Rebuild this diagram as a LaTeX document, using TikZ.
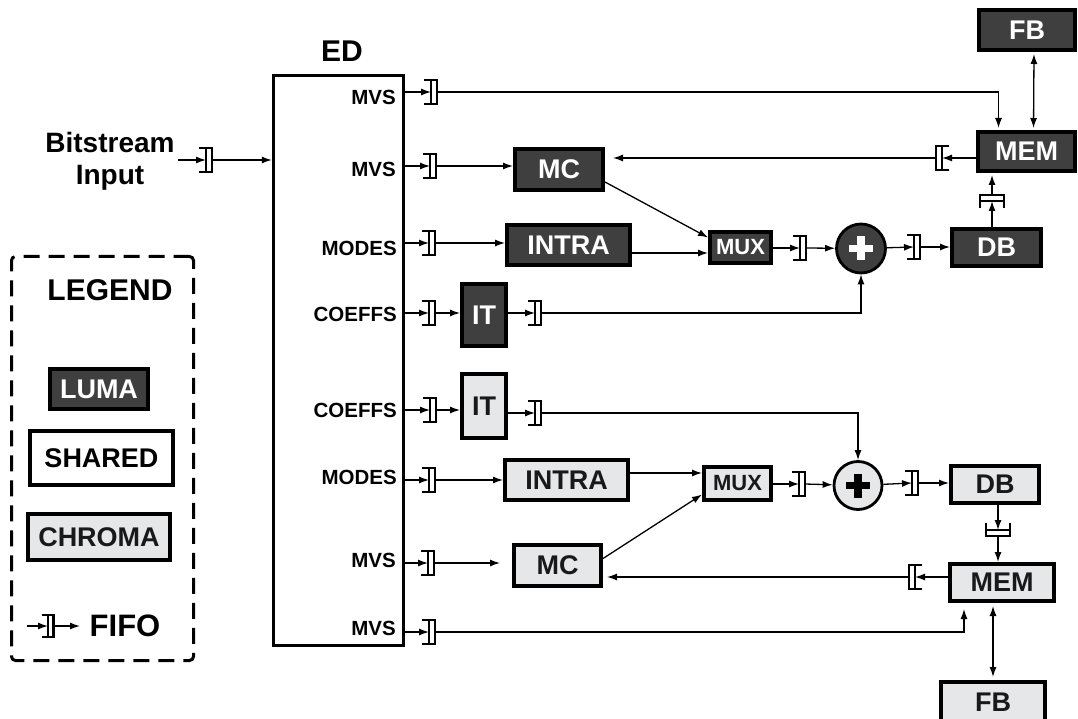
\documentclass[tikz,border=0pt]{standalone}
\usepackage{fontspec}
\setmainfont{Liberation Sans}
\usetikzlibrary{arrows.meta,calc}

\definecolor{lumafill}{HTML}{3F3F3F}
\definecolor{chromafill}{HTML}{E6E7E8}

\tikzset{
  fifo/.pic={
    \draw[line width=2.2pt] (-7,-12) -- (0,-12) -- (0,12) -- (-7,12);
    \draw[line width=2.2pt] (0,-12) rectangle (6,12);
    \coordinate (-in) at (0,0);
    \coordinate (-out) at (6,0);
  },
  plus/.style={path picture={
    \fill[#1] ($(path picture bounding box.center)+(-12,-3.8)$) rectangle ++(24,7.6);
    \fill[#1] ($(path picture bounding box.center)+(-3.8,-12)$) rectangle ++(7.6,24);
  }}
}

\begin{document}
\begin{tikzpicture}[
  x=1pt, y=-1pt,
  >={Latex[length=10pt,width=7pt]},
  conn/.style={->, line width=1.3pt},
  dconn/.style={<->, line width=1.3pt},
  unit/.style={draw, line width=4pt, inner sep=0pt, font=\fontsize{27}{30}\selectfont\bfseries},
  luma/.style={unit, fill=lumafill, text=white},
  chroma/.style={unit, fill=chromafill, text=black!90},
  shared/.style={unit, fill=white},
  small/.style={font=\fontsize{22}{24}\selectfont\bfseries},
  sum/.style={circle, draw, line width=2.8pt, minimum size=49pt, inner sep=0pt},
  port/.style={anchor=east, inner sep=0pt, font=\fontsize{20.5}{22}\selectfont\bfseries},
  title/.style={font=\fontsize{30}{32}\selectfont\bfseries}
]
\useasboundingbox (0,0) rectangle (1078,719);

% Entropy decoder
\node[shared, line width=3.5pt, minimum width=130pt, minimum height=570pt] (ed) at (338.5,360.5) {};
\node[title] (edname) at (342,51) {ED};
\node[title, font=\fontsize{28}{32}\selectfont\bfseries, align=center] (bits) at (110,161) {Bitstream\\Input};

% Port labels
\node[port] (pmv1) at (396,97) {MVS};
\node[port] (pmv2) at (396,169) {MVS};
\node[port] (pmd1) at (397,248) {MODES};
\node[port] (pcf1) at (397,314) {COEFFS};
\node[port] (pcf2) at (397,410) {COEFFS};
\node[port] (pmd2) at (397,477) {MODES};
\node[port] (pmv3) at (396,560) {MVS};
\node[port] (pmv4) at (396,628) {MVS};

% Luma path
\node[luma] (mcl) at (559,169.5) [minimum width=88pt, minimum height=41pt] {MC};
\node[luma] (intral) at (568.5,245) [minimum width=123pt, minimum height=40pt] {INTRA};
\node[luma] (itl) at (484,315) [minimum width=44pt, minimum height=62pt] {IT};
\node[luma, small] (muxl) at (740.5,247.5) [minimum width=61pt, minimum height=31pt] {MUX};
\node[sum, fill=lumafill, plus=white] (suml) at (861,248.5) {};
\node[luma] (dbl) at (996.5,247.5) [minimum width=89pt, minimum height=37pt] {DB};
\node[luma] (meml) at (1026.5,151.5) [minimum width=97pt, minimum height=39pt] {MEM};
\node[luma] (fbl) at (1027,30) [minimum width=96pt, minimum height=40pt] {FB};

% Chroma path
\node[chroma] (itc) at (484,406) [minimum width=44pt, minimum height=64pt] {IT};
\node[chroma] (intrac) at (566.5,480) [minimum width=123pt, minimum height=40pt] {INTRA};
\node[chroma] (mcc) at (557.5,565.5) [minimum width=87pt, minimum height=41pt] {MC};
\node[chroma, small] (muxc) at (737.5,483.5) [minimum width=67pt, minimum height=33pt] {MUX};
\node[sum, fill=chromafill, plus=black, minimum size=48pt] (sumc) at (858,485.5) {};
\node[chroma] (dbc) at (995,484.5) [minimum width=88pt, minimum height=37pt] {DB};
\node[chroma] (memc) at (1002,582.5) [minimum width=104pt, minimum height=37pt] {MEM};
\node[chroma] (fbc) at (993,702) [minimum width=104pt, minimum height=40pt] {FB};

% FIFOs
\pic (fbit) at (206,160) {fifo};
\pic (fl1) at (431,92) {fifo};
\pic (fl2) at (430,166) {fifo};
\pic (fl3) at (429,243) {fifo};
\pic (fl4) at (429,313) {fifo};
\pic (fl5) at (535,313) {fifo};
\pic (fl6) at (800,248) {fifo};
\pic (fl7) at (914,247) {fifo};
\pic[rotate=90] (fl8) at (992,201) {fifo};
\pic[rotate=180] (fl9) at (942,158) {fifo};
\pic (fc1) at (430,410) {fifo};
\pic (fc2) at (535,413) {fifo};
\pic (fc3) at (429,480) {fifo};
\pic (fc4) at (428,563) {fifo};
\pic (fc5) at (429,632) {fifo};
\pic (fc6) at (799,484) {fifo};
\pic (fc7) at (912,483) {fifo};
\pic[rotate=-90] (fc8) at (998,530) {fifo};
\pic[rotate=180] (fc9) at (915,577) {fifo};

% Input
\draw[conn] (bits.east |- fbit-in) -- (fbit-in);
\draw[conn] (fbit-out) -- (ed.west |- fbit-out);

% ED outputs
\foreach \f in {fl1,fl2,fl3,fl4,fc1,fc3,fc4,fc5}
  \draw[conn] (ed.east |- \f-in) -- (\f-in);

% Luma connections
\draw[conn, shorten >=2pt] (fl1-out) -| ([xshift=-28pt]meml.north);
\draw[dconn, shorten <=2pt, shorten >=2pt] ([xshift=7pt]fbl.south) -- ([xshift=7pt]meml.north);
\draw[conn] (fl2-out) -- (mcl.west |- fl2-out);
\draw[conn] (meml.west |- fl9-in) -- (fl9-in);
\draw[conn, shorten >=8pt] (fl9-out) -- (mcl.east |- fl9-out);
\draw[conn] ([yshift=10pt]mcl.south east) -- ([yshift=10pt]muxl.west);
\coordinate (il) at ([yshift=-8pt]intral.east);
\draw[conn] (il) -- (il -| muxl.west);
\draw[conn] (fl3-out) -- (intral.west |- fl3-out);
\draw[conn] (fl4-out) -- (itl.west |- fl4-out);
\draw[conn] (itl.east |- fl5-in) -- (fl5-in);
\draw[conn] (fl5-out) -| (suml.south);
\draw[conn] (muxl.east |- fl6-in) -- (fl6-in);
\draw[conn] (fl6-out) -- (suml);
\draw[conn] (suml) -- (fl7-in);
\draw[conn] (fl7-out) -- (dbl.west |- fl7-out);
\draw[conn] (fl8-in |- dbl.north) -- (fl8-in);
\draw[conn, shorten >=2pt] (fl8-out) -- (fl8-out |- meml.south);

% Chroma connections
\draw[conn] (fc1-out) -- (itc.west |- fc1-out);
\draw[conn] (itc.east |- fc2-in) -- (fc2-in);
\draw[conn] (fc2-out) -| (sumc.north);
\draw[conn] (fc3-out) -- (intrac.west |- fc3-out);
\coordinate (ic) at ([yshift=7pt]intrac.east);
\draw[conn] (ic) -- (ic -| muxc.west);
\draw[conn] ([yshift=7pt]mcc.east) -- ([yshift=-11pt]muxc.west);
\draw[conn, shorten >=12pt] (fc4-out) -- (mcc.west |- fc4-out);
\draw[conn] (muxc.east |- fc6-in) -- (fc6-in);
\draw[conn] (fc6-out) -- (sumc);
\draw[conn] (sumc) -- (fc7-in);
\draw[conn] (fc7-out) -- (dbc.west |- fc7-out);
\draw[conn] (fc8-in |- dbc.south) -- (fc8-in);
\draw[conn] (fc8-out) -- (fc8-out |- memc.north);
\draw[conn] (memc.west |- fc9-in) -- (fc9-in);
\draw[conn, shorten >=4pt] (fc9-out) -- (mcc.east |- fc9-out);
\draw[conn, shorten >=6pt] (fc5-out) -| ([xshift=-38pt]memc.south);
\draw[dconn, shorten <=3pt, shorten >=3pt] (fbc.north |- memc.south) -- (fbc.north);

% Legend
\node[draw, line width=3pt, dash pattern=on 16pt off 9pt, rounded corners=4pt,
      minimum width=182pt, minimum height=404pt] (legend) at (102.5,458.5) {};
\node[title] (legtitle) at (110,290) {LEGEND};
\node[luma] (legluma) at (99,389) [minimum width=98pt, minimum height=40pt] {LUMA};
\node[shared] (legshared) at (101.5,458) [minimum width=143pt, minimum height=54pt] {SHARED};
\node[chroma] (legchroma) at (99,537) [minimum width=142pt, minimum height=46pt] {CHROMA};
\pic[scale=0.9] (lfifo) at (48,626) {fifo};
\coordinate (lsrc) at (27,626);
\coordinate (ldst) at (80,626);
\draw[conn] (lsrc) -- (lfifo-in);
\draw[conn] (lfifo-out) -- (ldst);
\node[title, font=\fontsize{31}{34}\selectfont\bfseries] (legfifo) at (125,626) {FIFO};

\end{tikzpicture}
\end{document}
